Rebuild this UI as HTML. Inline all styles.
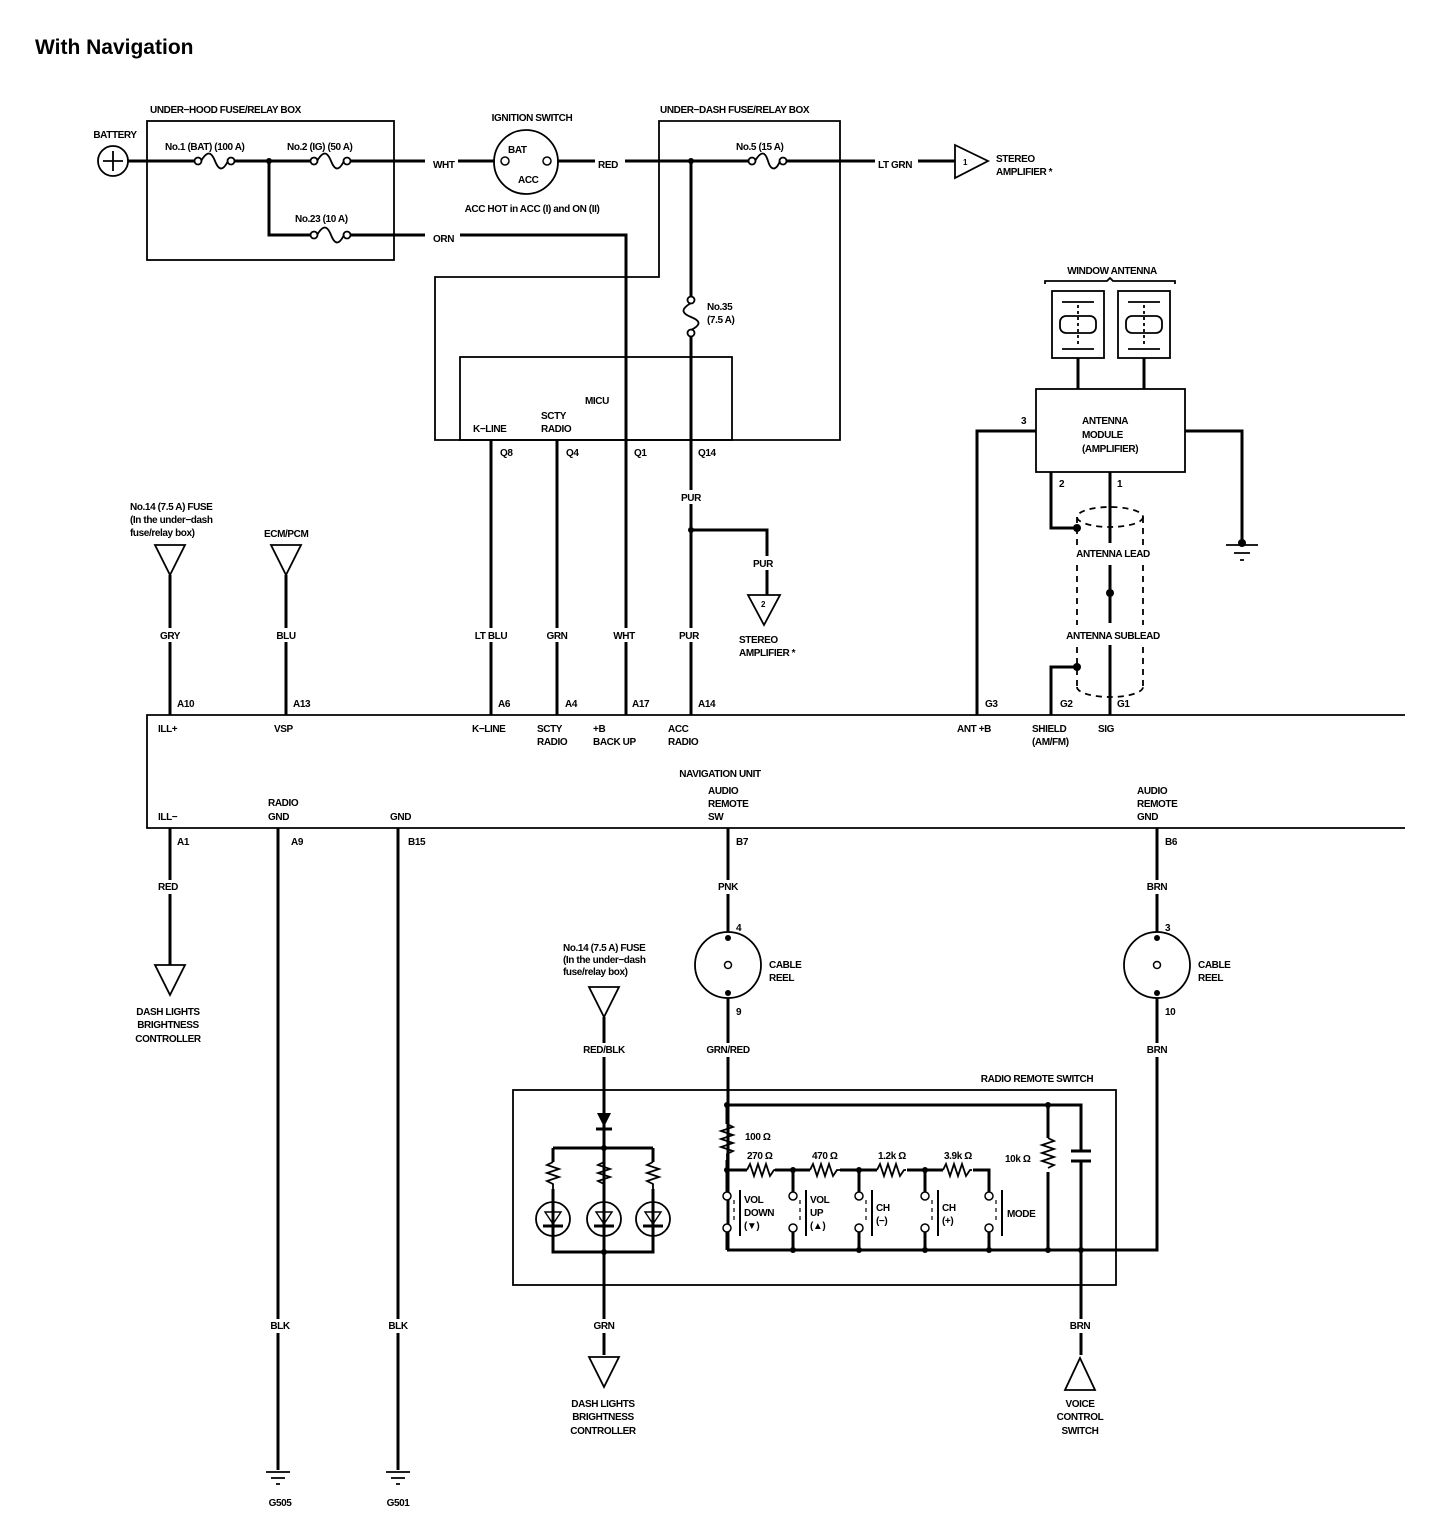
<!DOCTYPE html>
<html><head><meta charset="utf-8"><style>
html,body{margin:0;padding:0;background:#fff}
svg{display:block}
text{font-family:"Liberation Sans",sans-serif;font-weight:bold;font-size:10px;fill:#000;letter-spacing:-0.4px}
.m{text-anchor:middle}
.w{stroke:#000;stroke-width:3;fill:none}
.t{stroke:#000;stroke-width:1.8;fill:none}
.f{stroke:#000;stroke-width:1.5;fill:#fff}
</style></head><body>
<svg width="1440" height="1530" viewBox="0 0 1440 1530" xmlns="http://www.w3.org/2000/svg">
<text x="35" y="54" style="font-size:21px;letter-spacing:0">With Navigation</text>

<!-- battery -->
<circle cx="113" cy="161" r="15" class="t" stroke-width="2"/>
<path d="M103 161h20M113 151v20" class="t" stroke-width="1.4"/>
<text x="115" y="138" class="m">BATTERY</text>
<!-- under-hood box -->
<rect x="147" y="121" width="247" height="139" class="t"/>
<text x="150" y="113">UNDER−HOOD FUSE/RELAY BOX</text>
<path d="M128 161H195M234 161H311M350 161H425M269 161V235H311M350 235H425M460 235H626V715" class="w"/>
<path d="M458 161H495M557 161H595M625 161H749M786 161H875M918 161H955" class="w"/>
<!-- fuses horiz -->
<g class="t" stroke-width="1.6">
<circle cx="198" cy="161" r="3.5" fill="#fff"/><circle cx="231" cy="161" r="3.5" fill="#fff"/><path d="M201 161c6-10 10-10 14 0s8 10 13 0"/>
<circle cx="314" cy="161" r="3.5" fill="#fff"/><circle cx="347" cy="161" r="3.5" fill="#fff"/><path d="M317 161c6-10 10-10 14 0s8 10 13 0"/>
<circle cx="314" cy="235" r="3.5" fill="#fff"/><circle cx="347" cy="235" r="3.5" fill="#fff"/><path d="M317 235c6-10 10-10 14 0s8 10 13 0"/>
<circle cx="752" cy="161" r="3.5" fill="#fff"/><circle cx="783" cy="161" r="3.5" fill="#fff"/><path d="M755 161c6-10 10-10 13 0s8 10 12 0"/>
<circle cx="691" cy="300" r="3.5" fill="#fff"/><circle cx="691" cy="333" r="3.5" fill="#fff"/><path d="M691 303c-10 6-10 10 0 14s10 8 0 13"/>
</g>
<circle cx="269" cy="161" r="3"/><circle cx="691" cy="161" r="3"/>
<text x="165" y="150">No.1 (BAT) (100 A)</text>
<text x="287" y="150">No.2 (IG) (50 A)</text>
<text x="295" y="222">No.23 (10 A)</text>
<text x="433" y="168">WHT</text>
<text x="433" y="242">ORN</text>
<text x="598" y="168">RED</text>
<text x="736" y="150">No.5 (15 A)</text>
<text x="878" y="168">LT GRN</text>
<!-- ignition -->
<circle cx="526" cy="162" r="32" class="t" stroke-width="2"/>
<circle cx="505" cy="161" r="4" class="f"/><circle cx="547" cy="161" r="4" class="f"/>
<text x="508" y="153">BAT</text><text x="518" y="183">ACC</text>
<text x="532" y="121" class="m">IGNITION SWITCH</text>
<text x="532" y="212" class="m">ACC HOT in ACC (I) and ON (II)</text>
<!-- stereo amp 1 -->
<polygon points="955,145 988,161 955,178" class="t"/>
<text x="963" y="165" style="font-size:8px">1</text>
<text x="996" y="162">STEREO</text><text x="996" y="175">AMPLIFIER *</text>
<!-- under-dash box -->
<path d="M659 121H840V440H435V277H659Z" class="t"/>
<text x="660" y="113">UNDER−DASH FUSE/RELAY BOX</text>
<rect x="460" y="357" width="272" height="83" class="t"/>
<text x="585" y="404">MICU</text>
<text x="473" y="432">K−LINE</text>
<text x="541" y="419">SCTY</text><text x="541" y="432">RADIO</text>
<text x="707" y="310">No.35</text><text x="707" y="323">(7.5 A)</text>
<path d="M691 161V297M691 336V715M491 440V715M557 440V715M691 530H767V595" class="w"/>
<circle cx="691" cy="530" r="3"/>
<text x="500" y="456">Q8</text><text x="566" y="456">Q4</text><text x="634" y="456">Q1</text><text x="698" y="456">Q14</text>
<rect x="678" y="490" width="26" height="14" fill="#fff"/><text x="691" y="501" class="m">PUR</text>
<rect x="750" y="556" width="26" height="14" fill="#fff"/><text x="763" y="567" class="m">PUR</text>
<polygon points="748,595 780,595 764,625" class="t"/><text x="761" y="607" style="font-size:8px">2</text>
<text x="739" y="643">STEREO</text><text x="739" y="656">AMPLIFIER *</text>

<!-- left inputs -->
<text x="130" y="510">No.14 (7.5 A) FUSE</text><text x="130" y="523">(In the under−dash</text><text x="130" y="536">fuse/relay box)</text>
<polygon points="155,545 185,545 170,575" class="t"/>
<path d="M170 575V715" class="w"/>
<text x="264" y="537">ECM/PCM</text>
<polygon points="271,545 301,545 286,575" class="t"/>
<path d="M286 575V715" class="w"/>
<g>
<rect x="155" y="628" width="30" height="14" fill="#fff"/><text x="170" y="639" class="m">GRY</text>
<rect x="271" y="628" width="30" height="14" fill="#fff"/><text x="286" y="639" class="m">BLU</text>
<rect x="472" y="628" width="38" height="14" fill="#fff"/><text x="491" y="639" class="m">LT BLU</text>
<rect x="543" y="628" width="28" height="14" fill="#fff"/><text x="557" y="639" class="m">GRN</text>
<rect x="612" y="628" width="28" height="14" fill="#fff"/><text x="624" y="639" class="m">WHT</text>
<rect x="677" y="628" width="28" height="14" fill="#fff"/><text x="689" y="639" class="m">PUR</text>
</g>
<text x="177" y="707">A10</text><text x="293" y="707">A13</text><text x="498" y="707">A6</text><text x="565" y="707">A4</text><text x="632" y="707">A17</text><text x="698" y="707">A14</text>
<text x="985" y="707">G3</text><text x="1060" y="707">G2</text><text x="1117" y="707">G1</text>

<!-- nav unit -->
<path d="M1405 715H147V828H1405" class="t" stroke-width="2.2"/>
<text x="158" y="732">ILL+</text><text x="274" y="732">VSP</text><text x="472" y="732">K−LINE</text>
<text x="537" y="732">SCTY</text><text x="537" y="745">RADIO</text>
<text x="593" y="732">+B</text><text x="593" y="745">BACK UP</text>
<text x="668" y="732">ACC</text><text x="668" y="745">RADIO</text>
<text x="957" y="732">ANT +B</text>
<text x="1032" y="732">SHIELD</text><text x="1032" y="745">(AM/FM)</text>
<text x="1098" y="732">SIG</text>
<text x="720" y="777" class="m">NAVIGATION UNIT</text>
<text x="158" y="820">ILL−</text>
<text x="268" y="806">RADIO</text><text x="268" y="820">GND</text>
<text x="390" y="820">GND</text>
<text x="708" y="794">AUDIO</text><text x="708" y="807">REMOTE</text><text x="708" y="820">SW</text>
<text x="1137" y="794">AUDIO</text><text x="1137" y="807">REMOTE</text><text x="1137" y="820">GND</text>
<text x="177" y="845">A1</text><text x="291" y="845">A9</text><text x="408" y="845">B15</text><text x="736" y="845">B7</text><text x="1165" y="845">B6</text>

<!-- antenna -->
<text x="1112" y="274" class="m">WINDOW ANTENNA</text>
<path d="M1045 284v-3h62l3-3 3 3h62v3" class="t" stroke-width="1"/>
<rect x="1052" y="291" width="52" height="67" class="t" stroke-width="2.2"/>
<rect x="1118" y="291" width="52" height="67" class="t" stroke-width="2.2"/>
<g class="t" stroke-width="1">
<path d="M1062 302h32M1062 349h32M1128 302h32M1128 349h32"/>
<rect x="1060" y="316" width="36" height="17" rx="6"/><rect x="1126" y="316" width="36" height="17" rx="6"/>
<path d="M1078 305v40M1144 305v40" stroke-dasharray="3 3"/>
</g>
<path d="M1078 358V389M1144 358V389" class="w"/>
<rect x="1036" y="389" width="149" height="83" class="t" stroke-width="2.2"/>
<text x="1082" y="424">ANTENNA</text><text x="1082" y="438">MODULE</text><text x="1082" y="452">(AMPLIFIER)</text>
<text x="1021" y="424">3</text><text x="1059" y="487">2</text><text x="1117" y="487">1</text>
<path d="M1036 431H977V715M1185 431H1242V540M1051 472V528H1077M1110 472V543M1110 565V623M1110 645V715M1051 715V667H1077" class="w"/>
<path d="M1226 545h32M1234 553h16M1240 560h4" class="t" stroke-width="1.5"/>
<circle cx="1242" cy="543" r="4"/>
<circle cx="1077" cy="528" r="4"/><circle cx="1110" cy="593" r="4"/><circle cx="1077" cy="667" r="4"/>
<g class="t" stroke-width="2" stroke-dasharray="6 5">
<ellipse cx="1110" cy="517" rx="33" ry="10"/>
<path d="M1077 517V545M1143 517V545M1077 565V625M1143 565V625M1077 647V687M1143 647V687M1077 687a33 10 0 0 0 66 0"/>
</g>
<text x="1113" y="557" class="m">ANTENNA LEAD</text>
<text x="1113" y="639" class="m">ANTENNA SUBLEAD</text>

<!-- bottom left -->
<path d="M170 828V965M278 828V1470M398 828V1470" class="w"/>
<rect x="155" y="880" width="30" height="14" fill="#fff"/><text x="168" y="890" class="m">RED</text>
<polygon points="155,965 185,965 170,995" class="t"/>
<text x="168" y="1015" class="m">DASH LIGHTS</text><text x="168" y="1028" class="m">BRIGHTNESS</text><text x="168" y="1042" class="m">CONTROLLER</text>
<rect x="265" y="1319" width="30" height="14" fill="#fff"/><text x="280" y="1329" class="m">BLK</text>
<rect x="385" y="1319" width="30" height="14" fill="#fff"/><text x="398" y="1329" class="m">BLK</text>
<path d="M266 1472h24M271 1478h14M276 1484h4M386 1472h24M391 1478h14M396 1484h4" class="t" stroke-width="1.5"/>
<text x="280" y="1506" class="m">G505</text><text x="398" y="1506" class="m">G501</text>

<!-- cable reels -->
<path d="M728 828V932M728 998V1250M1157 828V932M1157 998V1250H727" class="w"/>
<rect x="714" y="880" width="28" height="14" fill="#fff"/><text x="728" y="890" class="m">PNK</text>
<rect x="1143" y="880" width="28" height="14" fill="#fff"/><text x="1157" y="890" class="m">BRN</text>
<circle cx="728" cy="965" r="33" class="t" stroke-width="2.2"/><circle cx="728" cy="965" r="3.5" class="f"/>
<circle cx="1157" cy="965" r="33" class="t" stroke-width="2.2"/><circle cx="1157" cy="965" r="3.5" class="f"/>
<circle cx="728" cy="938" r="3"/><circle cx="728" cy="993" r="3"/><circle cx="1157" cy="938" r="3"/><circle cx="1157" cy="993" r="3"/>
<text x="736" y="931">4</text><text x="736" y="1015">9</text><text x="1165" y="931">3</text><text x="1165" y="1015">10</text>
<text x="769" y="968">CABLE</text><text x="769" y="981">REEL</text>
<text x="1198" y="968">CABLE</text><text x="1198" y="981">REEL</text>
<rect x="704" y="1043" width="48" height="14" fill="#fff"/><text x="728" y="1053" class="m">GRN/RED</text>
<rect x="1143" y="1043" width="28" height="14" fill="#fff"/><text x="1157" y="1053" class="m">BRN</text>

<!-- radio remote switch -->
<rect x="513" y="1090" width="603" height="195" class="t"/>
<text x="1037" y="1082" class="m">RADIO REMOTE SWITCH</text>
<text x="563" y="951">No.14 (7.5 A) FUSE</text><text x="563" y="963">(In the under−dash</text><text x="563" y="975">fuse/relay box)</text>
<polygon points="589,987 619,987 604,1017" class="t"/>
<path d="M604 1017V1355" class="w"/>
<rect x="580" y="1043" width="48" height="14" fill="#fff"/><text x="604" y="1053" class="m">RED/BLK</text>
<polygon points="597,1113 611,1113 604,1127"/><path d="M596 1129h16" class="w"/>
<path d="M553 1148H653M553 1148V1162M653 1148V1162M553 1189V1252H653V1189" class="w"/>
<g class="t" stroke-width="1.6">
<path d="M553 1162l-6 3 12 4-12 4 12 4-12 4 6 3v13M604 1162l-6 3 12 4-12 4 12 4-12 4 6 3v13M653 1162l-6 3 12 4-12 4 12 4-12 4 6 3v13"/>
</g>
<g class="t" stroke-width="2.2">
<circle cx="553" cy="1219" r="17"/><circle cx="604" cy="1219" r="17"/><circle cx="653" cy="1219" r="17"/>
</g>
<g stroke="#000" stroke-width="1.4" fill="none">
<path d="M545 1212h16l-8 12zM596 1212h16l-8 12zM645 1212h16l-8 12z"/>
</g>
<path d="M543 1226h20M594 1226h20M643 1226h20M553 1228V1252M653 1228V1252" class="w"/>
<circle cx="604" cy="1148" r="3"/><circle cx="604" cy="1252" r="3"/>
<rect x="590" y="1319" width="28" height="14" fill="#fff"/><text x="604" y="1329" class="m">GRN</text>
<polygon points="589,1357 619,1357 604,1387" class="t"/>
<text x="603" y="1407" class="m">DASH LIGHTS</text><text x="603" y="1420" class="m">BRIGHTNESS</text><text x="603" y="1434" class="m">CONTROLLER</text>

<!-- switch network -->
<path d="M728 1105H1081V1150M1081 1161V1355M1048 1105V1138M1048 1172V1250M727 1105V1124M727 1160V1170H747M775 1170H810M840 1170H877M907 1170H943M973 1170H989V1192M793 1170V1192M859 1170V1192M925 1170V1192M727 1170V1192M727 1232V1250M793 1232V1250M859 1232V1250M925 1232V1250M989 1232V1250" class="w"/>
<path d="M1071 1151h20M1071 1161h20" class="w"/>
<g class="t" stroke-width="1.6">
<path d="M727 1124l6 3-12 4 12 4-12 4 12 4-12 4 12 4-6 3v8"/>
<path d="M1048 1138l6 3-12 4 12 4-12 4 12 4-12 4 12 4-6 3"/>
<path d="M747 1170l3-6 4 12 4-12 4 12 4-12 4 12 4-6h1"/>
<path d="M810 1170l3-6 4 12 4-12 4 12 4-12 4 12 4-6h3"/>
<path d="M877 1170l3-6 4 12 4-12 4 12 4-12 4 12 4-6h2"/>
<path d="M943 1170l3-6 4 12 4-12 4 12 4-12 4 12 4-6h2"/>
</g>
<g class="f">
<circle cx="727" cy="1196" r="4"/><circle cx="727" cy="1228" r="4"/>
<circle cx="793" cy="1196" r="4"/><circle cx="793" cy="1228" r="4"/>
<circle cx="859" cy="1196" r="4"/><circle cx="859" cy="1228" r="4"/>
<circle cx="925" cy="1196" r="4"/><circle cx="925" cy="1228" r="4"/>
<circle cx="989" cy="1196" r="4"/><circle cx="989" cy="1228" r="4"/>
</g>
<g stroke="#000" stroke-width="1.2" stroke-dasharray="4 4">
<path d="M734 1200v24M800 1200v24M866 1200v24M932 1200v24M996 1200v24"/>
</g>
<g stroke="#000" stroke-width="2">
<path d="M740 1190v46M806 1190v46M872 1190v46M938 1190v46M1002 1190v46"/>
</g>
<g fill="#000">
<circle cx="727" cy="1105" r="3"/><circle cx="1048" cy="1105" r="3"/><circle cx="727" cy="1170" r="3"/><circle cx="793" cy="1170" r="3"/><circle cx="859" cy="1170" r="3"/><circle cx="925" cy="1170" r="3"/>
<circle cx="793" cy="1250" r="3"/><circle cx="859" cy="1250" r="3"/><circle cx="925" cy="1250" r="3"/><circle cx="989" cy="1250" r="3"/><circle cx="1048" cy="1250" r="3"/><circle cx="1081" cy="1250" r="3"/>
</g>
<text x="745" y="1140">100 Ω</text>
<text x="747" y="1159">270 Ω</text><text x="812" y="1159">470 Ω</text><text x="878" y="1159">1.2k Ω</text><text x="944" y="1159">3.9k Ω</text><text x="1005" y="1162">10k Ω</text>
<text x="744" y="1203">VOL</text><text x="744" y="1216">DOWN</text><text x="744" y="1229">(▼)</text>
<text x="810" y="1203">VOL</text><text x="810" y="1216">UP</text><text x="810" y="1229">(▲)</text>
<text x="876" y="1211">CH</text><text x="876" y="1224">(−)</text>
<text x="942" y="1211">CH</text><text x="942" y="1224">(+)</text>
<text x="1007" y="1217">MODE</text>
<rect x="1066" y="1319" width="28" height="14" fill="#fff"/><text x="1080" y="1329" class="m">BRN</text>
<polygon points="1065,1390 1095,1390 1080,1358" class="t"/>
<text x="1080" y="1407" class="m">VOICE</text><text x="1080" y="1420" class="m">CONTROL</text><text x="1080" y="1434" class="m">SWITCH</text>
</svg>
</body></html>
